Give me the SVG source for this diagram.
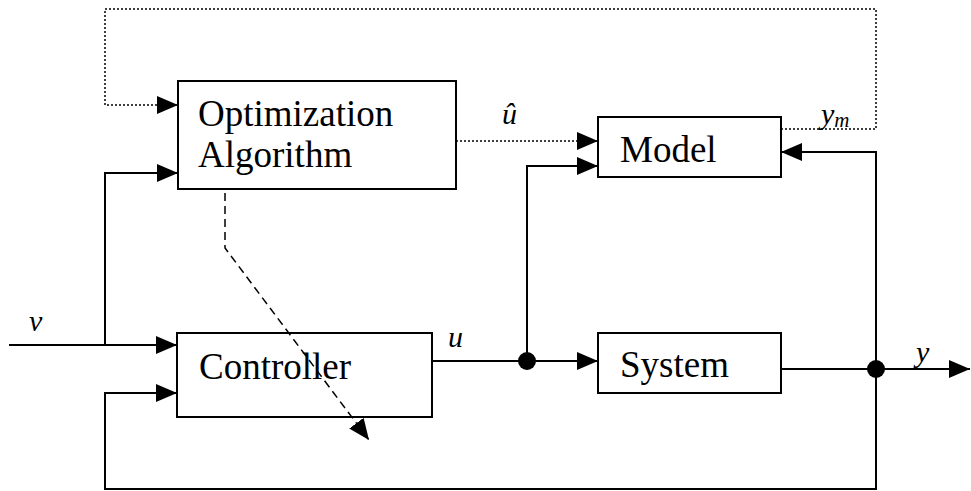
<svg xmlns="http://www.w3.org/2000/svg" width="971" height="491" viewBox="0 0 971 491">
<style>
.box{fill:none;stroke:#000;stroke-width:2}
.t{font-family:"Liberation Serif","Times New Roman",serif;font-size:37px;fill:#000}
.lbl{font-family:"Liberation Serif","Times New Roman",serif;font-size:30px;font-style:italic;fill:#000}
.w{fill:none;stroke:#000;stroke-width:2}
.dot{fill:none;stroke:#000;stroke-width:1.5;stroke-dasharray:2 2}
.dash{fill:none;stroke:#000;stroke-width:1.5;stroke-dasharray:8 5}
</style>
<defs>
<marker id="ah" markerUnits="userSpaceOnUse" markerWidth="22" markerHeight="20" refX="21" refY="9" orient="auto">
<path d="M0,0 L21,9 L0,18 Z" fill="#000"/>
</marker>
</defs>
<rect width="971" height="491" fill="#fff"/>
<g id="optimization">
<rect class="box" x="178" y="81" width="278" height="108"/>
<text class="t" x="198" y="126">Optimization</text>
<text class="t" x="198" y="167">Algorithm</text>
</g>
<g id="model">
<rect class="box" x="598" y="117" width="183" height="60"/>
<text class="t" x="620" y="162">Model</text>
</g>
<g id="controller">
<rect class="box" x="177" y="333" width="255" height="84"/>
<text class="t" x="199" y="379">Controller</text>
</g>
<g id="system">
<rect class="box" x="598" y="333" width="183" height="60"/>
<text class="t" x="620" y="377">System</text>
</g>
<g id="connectors">
<path class="w" d="M9,345 H177" marker-end="url(#ah)"/>
<path class="w" d="M105,345 V173 H178" marker-end="url(#ah)"/>
<path class="w" d="M876,369 V489 H105 V393 H177" marker-end="url(#ah)"/>
<path class="w" d="M432,361 H598" marker-end="url(#ah)"/>
<path class="w" d="M527,361 V166 H598" marker-end="url(#ah)"/>
<path class="w" d="M781,369 H970" marker-end="url(#ah)"/>
<path class="w" d="M876,369 V152 H781" marker-end="url(#ah)"/>
<path class="dot" d="M456,141 H598" marker-end="url(#ah)"/>
<path class="dot" d="M781,129 H876 V9 H105 V105 H178" marker-end="url(#ah)"/>
<path class="dash" d="M225,193 V248 L369,440" marker-end="url(#ah)"/>
<circle cx="527" cy="361" r="9" fill="#000"/>
<circle cx="876" cy="369" r="9" fill="#000"/>
</g>
<g id="labels">
<text class="lbl" x="29" y="331">v</text>
<text class="lbl" x="448" y="347">u</text>
<text class="lbl" x="502" y="124">û</text>
<text class="lbl" x="821" y="124">y<tspan font-size="21" dy="3">m</tspan></text>
<text class="lbl" x="916" y="362">y</text>
</g>
</svg>
